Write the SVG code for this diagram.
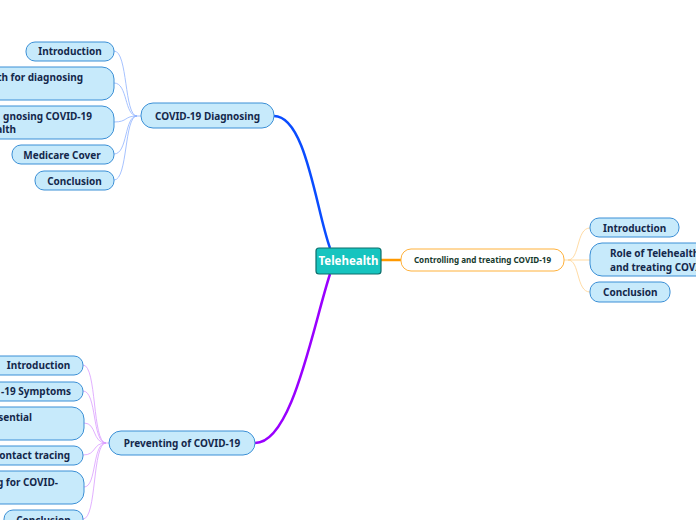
<svg xmlns="http://www.w3.org/2000/svg" width="696" height="520" viewBox="0 0 696 520">
<style>
.n rect{fill:#c7eafb;stroke:#3b8fd6;stroke-width:1}
.n text{font-family:"Noto Sans","Open Sans",sans-serif;font-weight:bold;font-size:10px;fill:#14284b}
.c path{fill:none}
.lb{stroke:#8fb3ff;stroke-width:0.8}
.lo{stroke:#ffd28e;stroke-width:0.8}
.lp{stroke:#d99cff;stroke-width:0.8}
</style>
<rect width="696" height="520" fill="#ffffff"/>
<g class="c" id="connectors">
<path d="M274,116 C306,116 316,210 330,248" stroke="#0a4cff" stroke-width="2.5"/>
<path d="M255,443 C292,443 312,330 330,274" stroke="#9900ff" stroke-width="2.5"/>
<path d="M381,260 L401,260" stroke="#ff9900" stroke-width="2.5"/>
<path class="lb" d="M114,51 C128,51 124,116 137,116 L141,116"/>
<path class="lb" d="M114,83 C128,83 124,116 137,116"/>
<path class="lb" d="M114,122 C128,122 124,116 137,116"/>
<path class="lb" d="M114,154 C128,154 124,116 137,116"/>
<path class="lb" d="M114,180 C128,180 124,116 137,116"/>
<path class="lo" d="M564,260 L568,260 C580,260 576,228 590,228"/>
<path class="lo" d="M568,260 L590,260"/>
<path class="lo" d="M568,260 C580,260 576,292 590,292"/>
<path class="lp" d="M83,365 C97,365 92,443 106,443 L109,443"/>
<path class="lp" d="M83,391 C97,391 92,443 106,443"/>
<path class="lp" d="M84,423 C97,423 92,443 106,443"/>
<path class="lp" d="M83,455 C97,455 92,443 106,443"/>
<path class="lp" d="M84,487 C97,487 92,443 106,443"/>
<path class="lp" d="M83,519 C97,519 92,443 106,443"/>
</g>
<g id="telehealth">
<rect x="316" y="248" width="65" height="26" rx="3" fill="#16c4bf" stroke="#0d6f6c" stroke-width="1.2"/>
<text x="348.5" y="265" text-anchor="middle" font-family="Noto Sans,Open Sans,sans-serif" font-weight="bold" font-size="11.5" fill="#ffffff">Telehealth</text>
</g>
<g id="covid-diagnosing" class="n">
<rect x="141" y="103" width="133" height="25" rx="12"/>
<text x="207.5" y="119.5" text-anchor="middle">COVID-19 Diagnosing</text>
</g>
<g id="d-intro" class="n">
<rect x="26" y="42" width="88" height="19" rx="9"/>
<text x="70" y="55" text-anchor="middle">Introduction</text>
</g>
<g id="d-role" class="n">
<rect x="-60" y="67" width="174" height="33" rx="12"/>
<text x="83" y="81" text-anchor="end">th for diagnosing</text>
</g>
<g id="d-benefits" class="n">
<rect x="-60" y="106" width="174" height="33" rx="12"/>
<text x="92" y="120" text-anchor="end">gnosing COVID-19</text>
<text x="16" y="133" text-anchor="end">alth</text>
</g>
<g id="d-medicare" class="n">
<rect x="12" y="145" width="102" height="19" rx="9"/>
<text x="62" y="158.5" text-anchor="middle">Medicare Cover</text>
</g>
<g id="d-conclusion" class="n">
<rect x="35" y="171" width="79" height="19" rx="9"/>
<text x="74.5" y="184.5" text-anchor="middle">Conclusion</text>
</g>
<g id="controlling">
<rect x="401" y="249" width="163" height="22" rx="10" fill="#ffffff" stroke="#ffb13b" stroke-width="1"/>
<text x="482.5" y="263" text-anchor="middle" font-family="Noto Sans,Open Sans,sans-serif" font-weight="bold" font-size="8.1" fill="#173a2e">Controlling and treating COVID-19</text>
</g>
<g id="c-intro" class="n">
<rect x="590" y="218" width="89" height="19" rx="9"/>
<text x="603" y="231.5">Introduction</text>
</g>
<g id="c-role" class="n">
<rect x="590" y="243" width="140" height="33" rx="12"/>
<text x="610" y="257">Role of Telehealth in controlling</text>
<text x="610" y="271">and treating COVID-19</text>
</g>
<g id="c-conclusion" class="n">
<rect x="590" y="282" width="80" height="20" rx="9"/>
<text x="603" y="296">Conclusion</text>
</g>
<g id="preventing" class="n">
<rect x="109" y="431" width="146" height="24" rx="12"/>
<text x="182" y="447" text-anchor="middle">Preventing of COVID-19</text>
</g>
<g id="p-intro" class="n">
<rect x="-10" y="356" width="93" height="19" rx="9"/>
<text x="38.5" y="369" text-anchor="middle">Introduction</text>
</g>
<g id="p-symptoms" class="n">
<rect x="-40" y="382" width="123" height="19" rx="9"/>
<text x="71" y="395" text-anchor="end">-19 Symptoms</text>
</g>
<g id="p-essential" class="n">
<rect x="-60" y="407" width="144" height="33" rx="12"/>
<text x="32" y="421" text-anchor="end">sential</text>
</g>
<g id="p-contact" class="n">
<rect x="-40" y="446" width="123" height="19" rx="9"/>
<text x="70" y="459" text-anchor="end">ontact tracing</text>
</g>
<g id="p-testing" class="n">
<rect x="-60" y="471" width="144" height="33" rx="12"/>
<text x="58" y="486" text-anchor="end">g for COVID-</text>
</g>
<g id="p-conclusion" class="n">
<rect x="4" y="510" width="79" height="20" rx="9"/>
<text x="43.5" y="524" text-anchor="middle">Conclusion</text>
</g>
</svg>
